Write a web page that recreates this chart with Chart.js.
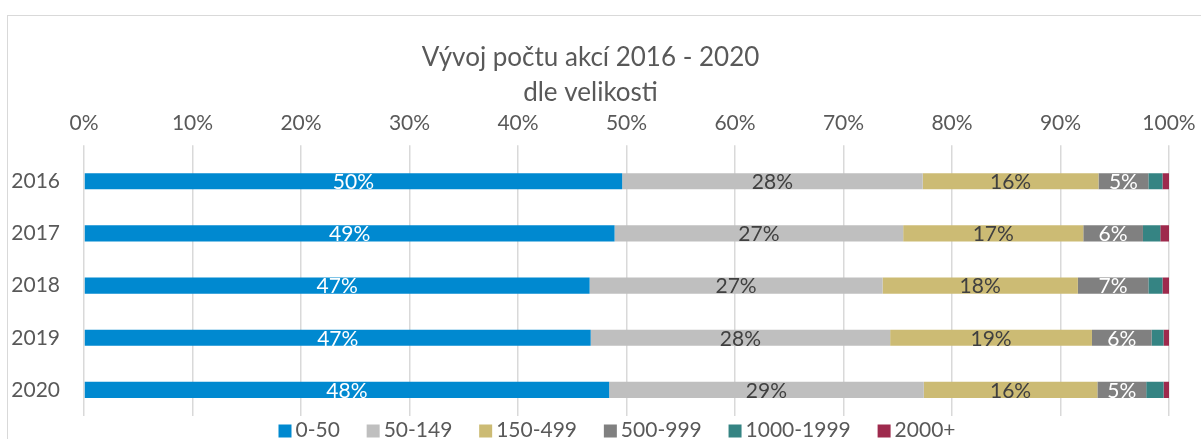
<!DOCTYPE html>
<html lang="cs">
<head>
<meta charset="utf-8">
<title>Vývoj počtu akcí 2016 - 2020</title>
<script src="https://cdn.jsdelivr.net/npm/chart.js@4.4.1/dist/chart.umd.min.js"></script>
<style>
    html, body { margin: 0; padding: 0; background: #fff; overflow: hidden; }
    #ramecek {
        position: absolute; left: 7px; top: 15px; right: -5px; bottom: -5px;
        border-left: 1px solid #d9d9d9; border-top: 1px solid #d9d9d9;
    }
    #graf { position: absolute; left: 0; top: 0; }
</style>
</head>
<body>
<div id="ramecek"></div>
<canvas id="graf" width="1201" height="439"></canvas>
<script>
// --- Data (podíl akcí v %) ---
const roky = ['2016', '2017', '2018', '2019', '2020'];
const velikosti = ['0-50', '50-149', '150-499', '500-999', '1000-1999', '2000+'];
const podil_0_50      = [49.6, 48.9, 46.6, 46.7, 48.4];
const podil_50_149    = [27.7, 26.6, 27.0, 27.6, 29.0];
const podil_150_499   = [16.2, 16.6, 18.0, 18.6, 16.0];
const podil_500_999   = [4.6, 5.5, 6.5, 5.5, 4.5];
const podil_1000_1999 = [1.3, 1.6, 1.3, 1.1, 1.6];
const podil_2000      = [0.6, 0.8, 0.6, 0.5, 0.5];
const osaHodnoty = [0, 10, 20, 30, 40, 50, 60, 70, 80, 90, 100];

const PISMO = 'Lato, "Open Sans", sans-serif';
const SEDA_TEXT = '#595959';

// --- Popisky hodnot uvnitř pruhů ---
const popiskyPlugin = {
    id: 'popisky',
    afterDatasetsDraw(chart) {
        const ctx = chart.ctx;
        ctx.save();
        ctx.font = '21px ' + PISMO;
        ctx.textAlign = 'center';
        ctx.textBaseline = 'middle';
        chart.data.datasets.forEach((ds, i) => {
            if (!ds.barvaPopisku) return;
            chart.getDatasetMeta(i).data.forEach((bar, j) => {
                const p = bar.getProps(['x', 'y', 'base'], true);
                ctx.fillStyle = ds.barvaPopisku;
                ctx.fillText(Math.round(ds.data[j]) + '%', (p.x + p.base) / 2, p.y + 1);
            });
        });
        ctx.restore();
    }
};

// --- Legenda dole (vlastní, kvůli rozestupům jako v Excelu) ---
const legendaPlugin = {
    id: 'legendaDole',
    afterDraw(chart) {
        const ctx = chart.ctx;
        const box = 13, mezera = 4, celkem = 677;
        ctx.save();
        ctx.font = '21px ' + PISMO;
        ctx.textBaseline = 'middle';
        const polozky = chart.data.datasets.map(ds => ({
            text: ds.label,
            barva: ds.backgroundColor,
            sirka: box + mezera + ctx.measureText(ds.label).width
        }));
        const soucet = polozky.reduce((s, p) => s + p.sirka, 0);
        const rozestup = (celkem - soucet) / (polozky.length - 1);
        let x = 617 - celkem / 2;
        const y = 430;
        polozky.forEach(p => {
            ctx.fillStyle = p.barva;
            ctx.fillRect(x, y - box / 2 + 1, box, box);
            ctx.fillStyle = SEDA_TEXT;
            ctx.fillText(p.text, x + box + mezera, y);
            x += p.sirka + rozestup;
        });
        ctx.restore();
    }
};

function dataset(idx, data, barva, barvaPopisku) {
    return {
        label: velikosti[idx],
        data: data,
        backgroundColor: barva,
        borderWidth: 0,
        barPercentage: 0.31,
        categoryPercentage: 1,
        barvaPopisku: barvaPopisku
    };
}

new Chart(document.getElementById('graf'), {
    type: 'bar',
    data: {
        labels: roky,
        datasets: [
            dataset(0, podil_0_50, '#0089d0', '#ffffff'),
            dataset(1, podil_50_149, '#bfbfbf', '#404040'),
            dataset(2, podil_150_499, '#ccbb74', '#404040'),
            dataset(3, podil_500_999, '#808080', '#ffffff'),
            dataset(4, podil_1000_1999, '#358483', null),
            dataset(5, podil_2000, '#9e2a4d', null)
        ]
    },
    options: {
        indexAxis: 'y',
        responsive: false,
        animation: false,
        devicePixelRatio: 1,
        layout: { padding: { top: 30, left: 12, right: 32, bottom: 23 } },
        scales: {
            x: {
                position: 'top',
                stacked: true,
                min: 0,
                max: 100,
                afterBuildTicks: axis => { axis.ticks = osaHodnoty.map(v => ({ value: v })); },
                ticks: {
                    color: SEDA_TEXT,
                    font: { family: PISMO, size: 21 },
                    padding: 9,
                    maxRotation: 0,
                    callback: v => v + '%'
                },
                grid: { color: '#d9d9d9', lineWidth: 1.5, tickLength: 10, drawTicks: true },
                border: { display: false },
                afterFit: axis => {
                    axis.height -= 9;
                    axis.paddingLeft = 0;
                    axis.paddingRight = 0;
                }
            },
            y: {
                stacked: true,
                ticks: {
                    color: SEDA_TEXT,
                    font: { family: PISMO, size: 21 },
                    padding: 24
                },
                grid: { display: false, drawTicks: false },
                border: { display: false },
                afterFit: axis => {
                    axis.width = 72;
                    axis.paddingTop = 0;
                    axis.paddingBottom = 0;
                }
            }
        },
        plugins: {
            legend: { display: false },
            tooltip: { enabled: false },
            title: {
                display: true,
                text: ['Vývoj počtu akcí 2016 - 2020', 'dle velikosti'],
                color: SEDA_TEXT,
                font: { family: PISMO, size: 26, weight: 'normal', lineHeight: 1.346 },
                padding: { top: 10, bottom: 1 }
            }
        }
    },
    plugins: [popiskyPlugin, legendaPlugin]
});
</script>
</body>
</html>
